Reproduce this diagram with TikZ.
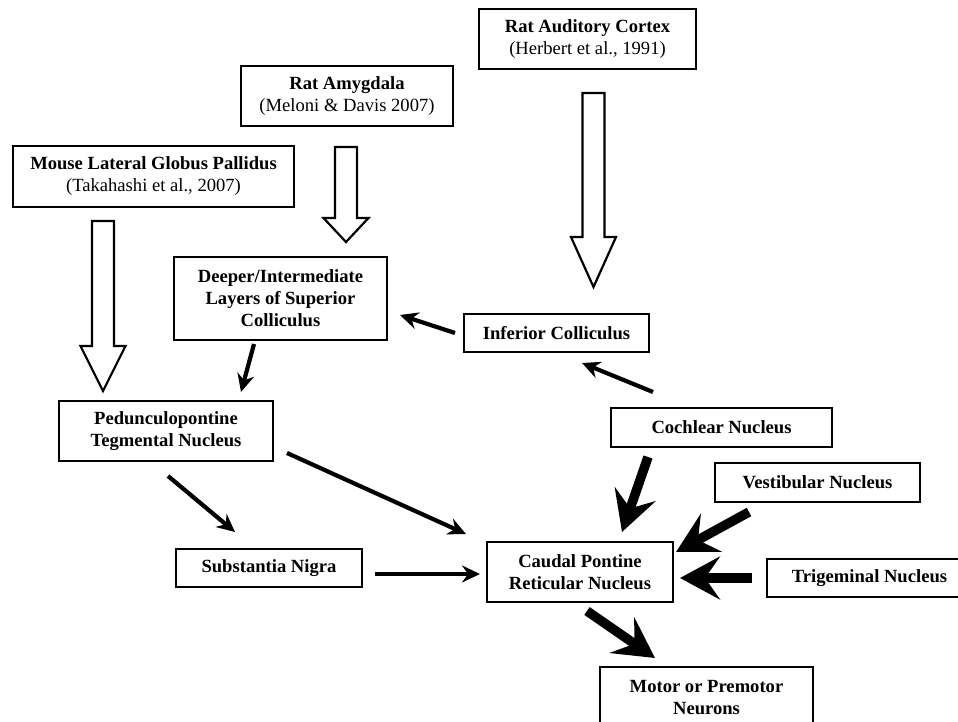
\documentclass[tikz,border=0pt]{standalone}
\usepackage{fontspec}
\setmainfont{Liberation Serif}
\usetikzlibrary{arrows.meta,calc}
\newcommand\hollowarr[3]{%
  \draw[hollowline] let \p1=#1, \p2=#2 in
   (\x1-11pt,\y1) -- (\x1+11pt,\y1) -- (\x1+11pt,\y2+#3) -- (\x1+22.5pt,\y2+#3)
   -- (\x1,\y2) -- (\x1-22.5pt,\y2+#3) -- (\x1-11pt,\y2+#3) -- cycle;}
\begin{document}
\begin{tikzpicture}[x=1pt,y=-1pt,
  box/.style={draw, line width=2.2pt, inner sep=0pt, outer sep=0pt, align=center,
    font=\fontsize{18.6}{22}\selectfont},
  hollowline/.style={draw, line width=2.2pt, line join=miter, fill=white},
  thinarr/.style={line width=4.2pt, -{Stealth[length=18pt,width=17pt,inset=6pt]}},
  thickarr/.style={line width=9.5pt, -{Stealth[length=40pt,width=43pt,inset=15pt]}}]
\fill[white] (0,0) rectangle (958,722);
\clip (0,0) rectangle (958,722);

\node[box, minimum width=217pt, minimum height=60pt] (aud) at (587.5,39)
  {\textbf{Rat Auditory Cortex}\\(Herbert et al., 1991)};
\node[box, minimum width=212pt, minimum height=60pt] (amyg) at (347,96)
  {\textbf{Rat Amygdala}\\(Meloni \& Davis 2007)};
\node[box, minimum width=281pt, minimum height=61pt] (mouse) at (153.5,176.5)
  {\textbf{Mouse Lateral Globus Pallidus}\\(Takahashi et al., 2007)};
\node[box, minimum width=213pt, minimum height=83pt] (deep) at (280.5,298.5)
  {\textbf{Deeper/Intermediate}\\\textbf{Layers of Superior}\\\textbf{Colliculus}};
\node[box, minimum width=185pt, minimum height=38pt] (ic) at (556.5,333)
  {\textbf{Inferior Colliculus}};
\node[box, minimum width=214pt, minimum height=60pt] (ppt) at (166,431)
  {\textbf{Pedunculopontine}\\\textbf{Tegmental Nucleus}};
\node[box, minimum width=221pt, minimum height=39pt] (coch) at (721.5,427.5)
  {\textbf{Cochlear Nucleus}};
\node[box, minimum width=205pt, minimum height=39pt] (vest) at (817.5,482.5)
  {\textbf{Vestibular Nucleus}};
\node[box, minimum width=186pt, minimum height=38pt] (sn) at (269,568)
  {\textbf{Substantia Nigra}};
\node[box, minimum width=186pt, minimum height=60pt] (caud) at (580,572)
  {\textbf{Caudal Pontine}\\\textbf{Reticular Nucleus}};
\node[box, minimum width=205pt, minimum height=38pt] (trig) at (869.5,578)
  {\textbf{Trigeminal Nucleus}};
\node[box, minimum width=213pt, minimum height=62pt] (motor) at (706.5,698)
  {\textbf{Motor or Premotor}\\\textbf{Neurons}};

% hollow arrows
\hollowarr{([shift={(90,14)}]mouse.south west)}{([shift={(44,-10)}]ppt.north west)}{45pt}
\hollowarr{([shift={(105,21)}]amyg.south west)}{([shift={(172,-15)}]deep.north west)}{24pt}
\hollowarr{([shift={(114.5,24)}]aud.south west)}{([shift={(130,-27)}]ic.north west)}{50pt}

% thin arrows
\draw[thinarr] ([shift={(80,4)}]deep.south west) -- ([shift={(-32,-9)}]ppt.north east);
\draw[thinarr] ([shift={(109,15)}]ppt.south west) -- ([shift={(59,-17)}]sn.north west);
\draw[thinarr] ([shift={(14,-8)}]ppt.south east) -- ([shift={(-21,-8)}]caud.north west);
\draw[thinarr] ([shift={(13,-13)}]sn.south east) -- ([shift={(-7,2)}]caud.west);
\draw[thinarr] ([shift={(-9,0)}]ic.west) -- ([shift={(13,16.5)}]deep.east);
\draw[thinarr] ([shift={(42,-16)}]coch.north west) -- ([shift={(118,11)}]ic.south west);

% thick arrows
\draw[thickarr] ([shift={(37,10)}]coch.south west) -- ([shift={(135,-10)}]caud.north west);
\draw[thickarr] ([shift={(34,10)}]vest.south west) -- ([shift={(3,10)}]caud.north east);
\draw[thickarr] ([shift={(-15,0)}]trig.west) -- ([shift={(7,6)}]caud.east);
\draw[thickarr] ([shift={(100,9)}]caud.south west) -- ([shift={(55,-9)}]motor.north west);
\end{tikzpicture}
\end{document}
